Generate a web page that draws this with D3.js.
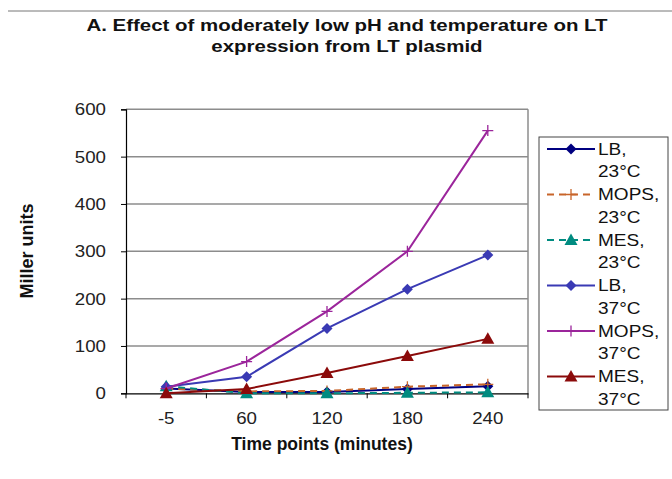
<!DOCTYPE html>
<html><head><meta charset="utf-8">
<script src="https://cdn.jsdelivr.net/npm/d3@7"></script>
<style>body{margin:0;background:#fff}svg{display:block}text{font-family:Arial,"Liberation Sans",sans-serif}</style>
</head><body><svg id="c" width="672" height="479"></svg>
<script>
const categories = ["-5","60","120","180","240"];
const yTicks = [0,100,200,300,400,500,600];
const seriesNames = ["LB, 23°C","MOPS, 23°C","MES, 23°C","LB, 37°C","MOPS, 37°C","MES, 37°C"];
const lb23   = [10, 3, 3, 9, 15];
const mops23 = [10, 4, 5, 14, 19];
const mes23  = [15, 0, 0, 1, 2];
const lb37   = [14, 35, 137, 220, 292];
const mops37 = [10, 67, 173, 300, 555];
const mes37  = [0, 9, 43, 79, 115];
const seriesValues = [lb23, mops23, mes23, lb37, mops37, mes37];

const styles = [
  {color:"#000080", dash:null, marker:"diamond"},
  {color:"#C8652A", dash:"7,5", marker:"plus"},
  {color:"#008B80", dash:"7,5", marker:"triangle"},
  {color:"#3A3AB4", dash:null, marker:"diamond"},
  {color:"#9B259B", dash:null, marker:"plus"},
  {color:"#8B0A0A", dash:null, marker:"triangle"}
];

const svg = d3.select("#c");
const L=126, R=528, T=109.3, B=393.3;
const x = d3.scaleBand().domain(categories).range([L,R]);
const y = d3.scaleLinear().domain([0,600]).range([B,T]);

function stretch(sel, s){
  sel.each(function(){
    const t = d3.select(this);
    const ax = +t.attr("x") || 0;
    t.attr("transform", `translate(${ax},0) scale(${s},1) translate(${-ax},0)`);
  });
}

// top decorative rule
svg.append("line").attr("x1",8).attr("x2",672).attr("y1",11).attr("y2",11).attr("stroke","#777").attr("stroke-width",1);

// title
const t1 = svg.append("text").attr("x",347).attr("y",31).attr("text-anchor","middle").attr("font-weight","bold").attr("font-size",16.5).attr("fill","#111").text("A. Effect of moderately low pH and temperature on LT");
const t2 = svg.append("text").attr("x",347).attr("y",52.5).attr("text-anchor","middle").attr("font-weight","bold").attr("font-size",16.5).attr("fill","#111").text("expression from LT plasmid");
stretch(t1,1.24); stretch(t2,1.24);

// gridlines
svg.append("g").selectAll("line").data(yTicks.filter(d=>d>0)).join("line")
  .attr("x1",L).attr("x2",R).attr("y1",d=>y(d)).attr("y2",d=>y(d))
  .attr("stroke","#8c8c8c").attr("stroke-width",1.5);
// right border
svg.append("line").attr("x1",R).attr("x2",R).attr("y1",T).attr("y2",B).attr("stroke","#8c8c8c").attr("stroke-width",1.5);

// y axis
const yAxis = svg.append("g").attr("transform",`translate(${L},0)`)
  .call(d3.axisLeft(y).tickValues(yTicks).tickSize(5).tickPadding(15));
yAxis.select(".domain").attr("stroke","#000").attr("stroke-width",1.2);
yAxis.selectAll(".tick line").attr("stroke","#000");
yAxis.selectAll("text").attr("font-size",17).attr("fill","#222").attr("font-family","Arial, 'Liberation Sans', sans-serif");
stretch(yAxis.selectAll("text"),1.1);

// x axis
const xAxis = svg.append("g").attr("transform",`translate(0,${B})`)
  .call(d3.axisBottom(x).tickSize(0).tickPadding(19));
xAxis.select(".domain").attr("stroke","#000").attr("stroke-width",1.2);
xAxis.selectAll("text").attr("font-size",17).attr("fill","#222").attr("font-family","Arial, 'Liberation Sans', sans-serif");
stretch(xAxis.selectAll("text"),1.1);
const edges = [...categories.map(c=>x(c)), R];
svg.append("g").selectAll("line").data(edges).join("line")
  .attr("x1",d=>d).attr("x2",d=>d).attr("y1",B).attr("y2",B+5).attr("stroke","#000");

// axis titles
svg.append("text").attr("x",322).attr("y",450).attr("text-anchor","middle").attr("font-weight","bold").attr("font-size",17.5).attr("fill","#111").text("Time points (minutes)");
svg.append("text").attr("transform","translate(33,251) rotate(-90)").attr("text-anchor","middle").attr("font-weight","bold").attr("font-size",18).attr("fill","#111").text("Miller units");

function drawMarker(g, type, cx, cy, color){
  if(type==="diamond"){
    g.append("path").attr("d",`M${cx},${cy-5.5}L${cx+5.5},${cy}L${cx},${cy+5.5}L${cx-5.5},${cy}Z`).attr("fill",color);
  } else if(type==="triangle"){
    g.append("path").attr("d",`M${cx},${cy-6.5}L${cx+6.5},${cy+5}L${cx-6.5},${cy+5}Z`).attr("fill",color);
  } else {
    g.append("path").attr("d",`M${cx-5.5},${cy}H${cx+5.5}M${cx},${cy-5.5}V${cy+5.5}`).attr("stroke",color).attr("stroke-width",1.3).attr("fill","none");
  }
}

const line = d3.line().x((d,i)=>x(categories[i])+x.bandwidth()/2).y(d=>y(d));
seriesValues.forEach((vals,si)=>{
  const s = styles[si];
  const g = svg.append("g");
  g.append("path").attr("d",line(vals)).attr("fill","none").attr("stroke",s.color).attr("stroke-width",2)
    .attr("stroke-dasharray",s.dash);
  vals.forEach((v,i)=>drawMarker(g,s.marker,x(categories[i])+x.bandwidth()/2,y(v),s.color));
});

// legend
const lg = svg.append("g");
lg.append("rect").attr("x",539).attr("y",137).attr("width",129).attr("height",273).attr("fill","#fff").attr("stroke","#444").attr("stroke-width",1);
seriesNames.forEach((name,i)=>{
  const s = styles[i];
  const cy = 149 + i*45.5;
  lg.append("line").attr("x1",547).attr("x2",595).attr("y1",cy).attr("y2",cy).attr("stroke",s.color).attr("stroke-width",2).attr("stroke-dasharray",s.dash);
  drawMarker(lg,s.marker,571,cy,s.color);
  const parts = name.split(" ");
  const a = lg.append("text").attr("x",598).attr("y",cy+6).attr("font-size",17).attr("fill","#111").text(parts[0]);
  const b = lg.append("text").attr("x",598).attr("y",cy+28.5).attr("font-size",17).attr("fill","#111").text(parts[1]);
  stretch(a,1.12); stretch(b,1.12);
});
</script></body></html>
